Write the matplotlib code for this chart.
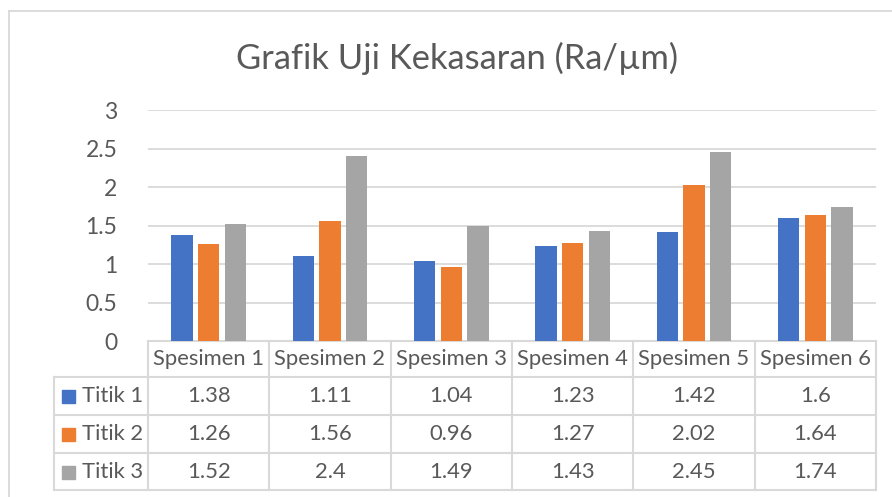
import numpy as np
import matplotlib
matplotlib.use("Agg")
import matplotlib.pyplot as plt
from matplotlib.transforms import blended_transform_factory
from matplotlib.patches import Rectangle

specimens = ["Spesimen 1", "Spesimen 2", "Spesimen 3", "Spesimen 4", "Spesimen 5", "Spesimen 6"]
series_names = ["Titik 1", "Titik 2", "Titik 3"]
titik1 = [1.38, 1.11, 1.04, 1.23, 1.42, 1.6]
titik2 = [1.26, 1.56, 0.96, 1.27, 2.02, 1.64]
titik3 = [1.52, 2.4, 1.49, 1.43, 2.45, 1.74]
yticks = [0, 0.5, 1, 1.5, 2, 2.5, 3]
ytick_labels = ["0", "0.5", "1", "1.5", "2", "2.5", "3"]
colors = ["#4472C4", "#ED7D31", "#A5A5A5"]

W, H = 892, 497
plt.rcParams['font.family'] = ['Lato', 'DejaVu Sans']
txt = "#595959"
grid = "#d9d9d9"
fs = 15.8

fig = plt.figure(figsize=(W / 100, H / 100), dpi=100)

def fx(px):
    return px / W

def fy(py):
    return 1 - py / H

# plot area in pixels: x 148..876, y 110 (=3) .. 341 (=0)
ax = fig.add_axes([fx(148), fy(341), fx(876 - 148), (341 - 110) / H])
ax.set_xlim(0, len(specimens))
ax.set_ylim(0, 3)
for s in ax.spines.values():
    s.set_visible(False)
ax.set_xticks([])
ax.set_yticks(yticks)
ax.set_yticklabels(ytick_labels, fontsize=16.5, color=txt)
ax.tick_params(axis='y', length=0, pad=22)
ax.yaxis.grid(True, color=grid, linewidth=1.3)
ax.set_axisbelow(True)

x = np.arange(len(specimens)) + 0.5
width = 0.175
step = 0.22
for i, vals in enumerate([titik1, titik2, titik3]):
    ax.bar(x + (i - 1) * step, vals, width, color=colors[i], zorder=3)

# chart frame (partially cropped in reference)
fig.add_artist(plt.Line2D([fx(9), fx(9)], [fy(11), 0], transform=fig.transFigure, color=grid, lw=1.3))
fig.add_artist(plt.Line2D([fx(9), 1], [fy(11), fy(11)], transform=fig.transFigure, color=grid, lw=1.3))

fig.text(fx(457), fy(58), "Grafik Uji Kekasaran (Ra/µm)", ha='center', va='center',
         fontsize=24.8, color=txt)

# data table below the axis
tr = blended_transform_factory(ax.transData, fig.transFigure)
rows_px = [341, 377, 415, 453, 490]
tlw = 1.5
# horizontal lines
ax.plot([0, len(specimens)], [fy(341)] * 2, transform=tr, color=grid, lw=tlw, clip_on=False)
for py in rows_px[1:]:
    fig.add_artist(plt.Line2D([fx(54), fx(876)], [fy(py), fy(py)], transform=fig.transFigure,
                              color=grid, lw=tlw))
# vertical lines
for k in range(len(specimens) + 1):
    ax.plot([k, k], [fy(341), fy(490)], transform=tr, color=grid, lw=tlw, clip_on=False)
fig.add_artist(plt.Line2D([fx(54), fx(54)], [fy(377), fy(490)], transform=fig.transFigure,
                          color=grid, lw=tlw))

for j, name in enumerate(specimens):
    ax.text(x[j], fy(359), name, transform=tr, ha='center', va='center', fontsize=fs, color=txt)

for i, vals in enumerate([titik1, titik2, titik3]):
    yc = (rows_px[i + 1] + rows_px[i + 2]) / 2
    for j, v in enumerate(vals):
        ax.text(x[j], fy(yc), f"{v:g}", transform=tr, ha='center', va='center', fontsize=fs, color=txt)
    fig.add_artist(Rectangle((fx(62), fy(yc + 7)), fx(13), 13 / H, transform=fig.transFigure,
                             color=colors[i]))
    fig.text(fx(82), fy(yc), series_names[i], ha='left', va='center', fontsize=fs, color=txt)

fig.savefig("out.png", dpi=100)
